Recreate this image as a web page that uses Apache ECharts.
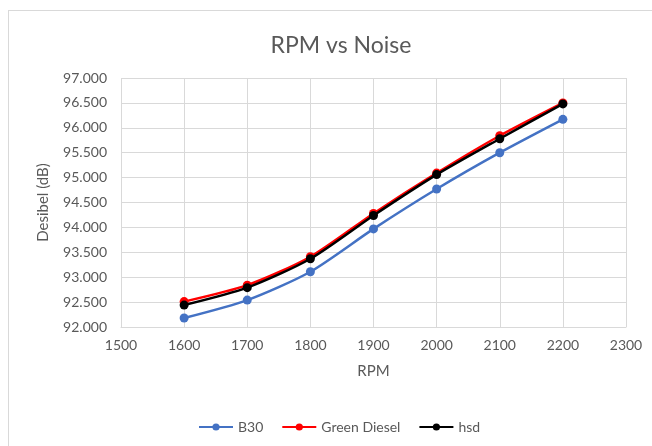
<!DOCTYPE html>
<html>
<head>
<meta charset="utf-8">
<script src="https://cdn.jsdelivr.net/npm/echarts@6/dist/echarts.min.js"></script>
<style>
  html, body { margin: 0; padding: 0; background: #fff; }
  #frame { position: absolute; left: 8px; top: 10px; width: 700px; height: 500px; border: 1px solid #d9d9d9; box-sizing: border-box; }
  #chart { position: absolute; left: 0; top: 0; width: 652px; height: 446px; }
</style>
</head>
<body>
<div id="frame"></div>
<div id="chart"></div>
<script>
    // RPM values on the x axis
    var rpm = [1600, 1700, 1800, 1900, 2000, 2100, 2200];

    // noise readings (dB) per fuel
    var b30 = [92.18, 92.54, 93.11, 93.97, 94.77, 95.50, 96.17];
    var greenDiesel = [92.51, 92.84, 93.41, 94.28, 95.09, 95.84, 96.50];
    var hsd = [92.44, 92.79, 93.37, 94.24, 95.06, 95.78, 96.48];

    var seriesNames = ['B30', 'Green Diesel', 'hsd'];
    var seriesColors = ['#4472C4', '#FF0000', '#000000'];

    function pairs(values) {
        return rpm.map(function(x, i) {
            return [x, values[i]];
        });
    }

    var font = 'Lato, "Open Sans", sans-serif';
    var textColor = '#595959';

    var myChart = echarts.init(document.getElementById('chart'));

    var series = [b30, greenDiesel, hsd].map(function(values, i) {
        return {
            name: seriesNames[i],
            type: 'line',
            smooth: 0.25,
            data: pairs(values),
            symbol: 'circle',
            symbolSize: 9,
            lineStyle: { width: 2.5, color: seriesColors[i] },
            itemStyle: { color: seriesColors[i] },
            z: 2 + i
        };
    });

    myChart.setOption({
        animation: false,
        textStyle: { fontFamily: font },
        title: {
            text: 'RPM vs Noise',
            left: 336,
            textAlign: 'center',
            top: 29,
            textStyle: { fontSize: 23, fontWeight: 'normal', color: textColor, fontFamily: font }
        },
        legend: {
            data: seriesNames,
            left: 193,
            top: 415,
            itemWidth: 34,
            itemHeight: 9,
            itemGap: 18,
            textStyle: { fontSize: 14, color: textColor, fontFamily: font }
        },
        grid: {
            left: 121,
            right: 26,
            top: 78,
            bottom: 119
        },
        xAxis: {
            type: 'value',
            min: 1500,
            max: 2300,
            interval: 100,
            name: 'RPM',
            nameLocation: 'middle',
            nameGap: 37,
            nameTextStyle: { fontSize: 15, color: textColor, fontFamily: font },
            axisLine: { show: true, lineStyle: { color: '#d9d9d9', width: 1 } },
            axisTick: { show: false },
            axisLabel: {
                fontSize: 14,
                color: textColor,
                margin: 11,
                formatter: function(v) {
                    return String(v);
                }
            },
            splitLine: { show: true, lineStyle: { color: '#d9d9d9', width: 1 } }
        },
        yAxis: {
            type: 'value',
            min: 92,
            max: 97,
            interval: 0.5,
            name: 'Desibel (dB)',
            nameLocation: 'middle',
            nameGap: 70,
            nameTextStyle: { fontSize: 15, color: textColor, fontFamily: font },
            axisLine: { show: false },
            axisTick: { show: false },
            axisLabel: {
                fontSize: 14,
                color: textColor,
                margin: 14,
                formatter: function(v) {
                    return v.toFixed(3);
                }
            },
            splitLine: { show: true, lineStyle: { color: '#d9d9d9', width: 1 } }
        },
        series: series
    });
</script>
</body>
</html>
